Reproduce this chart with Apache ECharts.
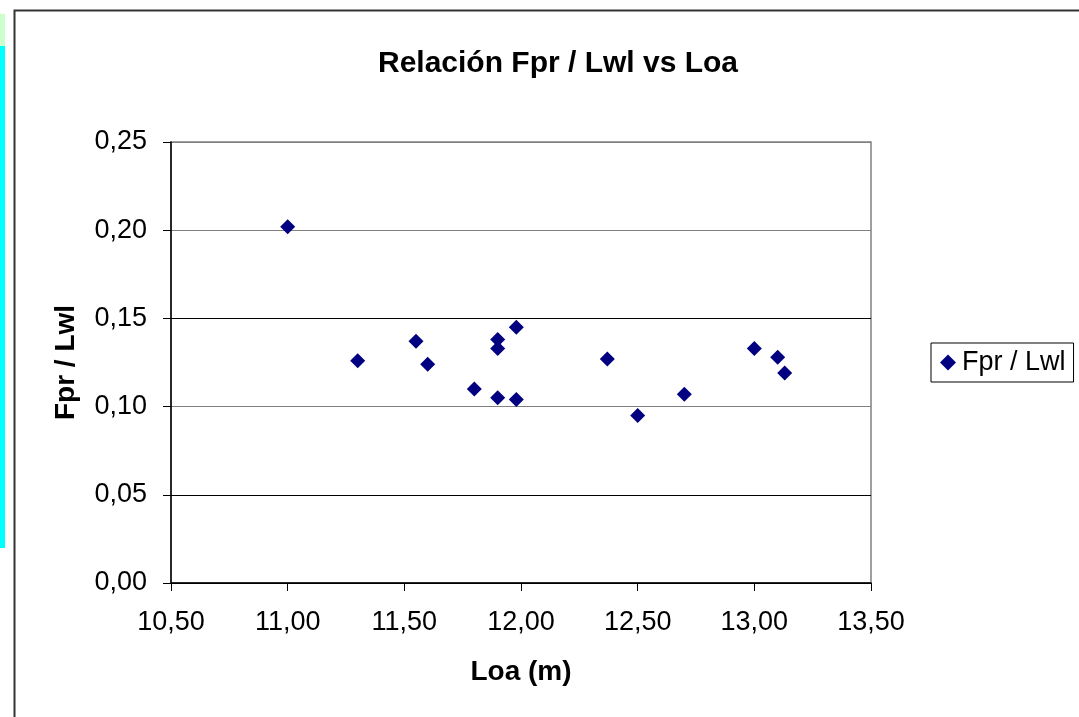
<!DOCTYPE html>
<html>
<head>
<meta charset="utf-8">
<script src="https://cdn.jsdelivr.net/npm/echarts@6/dist/echarts.min.js"></script>
<style>html,body{margin:0;padding:0;background:#fff;}#c{width:1079px;height:717px;}</style>
</head>
<body>
<div id="c"></div>
<script>
const loa = [11.00, 11.30, 11.55, 11.60, 11.80, 11.90, 11.90, 11.90, 11.98, 11.98, 12.37, 12.50, 12.70, 13.00, 13.10, 13.13];
const fprLwl = [0.202, 0.126, 0.137, 0.124, 0.110, 0.138, 0.133, 0.105, 0.145, 0.104, 0.127, 0.095, 0.107, 0.133, 0.128, 0.119];
const seriesName = 'Fpr / Lwl';
const titleText = 'Relación Fpr / Lwl vs Loa';
const xName = 'Loa (m)';
const yName = 'Fpr / Lwl';

const fmt = v => v.toFixed(2).replace('.', ',');
const points = loa.map((x, i) => [x, fprLwl[i]]);
const font = '"Liberation Sans", Arial, sans-serif';

const chart = echarts.init(document.getElementById('c'), null, {renderer: 'canvas'});
chart.setOption({
  backgroundColor: '#fff',
  animation: false,
  textStyle: {fontFamily: font, color: '#000'},
  title: {
    text: titleText, left: 553, top: 44, textAlign: 'center',
    textStyle: {fontFamily: font, fontSize: 30, fontWeight: 'bold', color: '#000'}
  },
  graphic: [
    {type: 'rect', shape: {x: 0, y: 14, width: 5, height: 32}, style: {fill: '#ccffcc'}},
    {type: 'rect', shape: {x: 0, y: 46, width: 5, height: 502}, style: {fill: '#00ffff'}},
    {type: 'rect', shape: {x: 14.5, y: 10.5, width: 1100, height: 800}, style: {fill: null, stroke: '#333', lineWidth: 2}},
    {type: 'rect', z: -1, shape: {x: 171, y: 142, width: 700, height: 441}, style: {fill: null, stroke: '#808080', lineWidth: 1.5}}
  ],
  legend: {
    data: [seriesName], left: 931, top: 343,
    orient: 'vertical',
    borderColor: '#000', borderWidth: 1, borderRadius: 0,
    padding: [6, 8, 6, 9],
    itemWidth: 16, itemHeight: 16, itemGap: 0,
    textStyle: {fontFamily: font, fontSize: 27, color: '#000', padding: [0, 0, 0, 1]}
  },
  grid: {left: 171, right: 208, top: 142, bottom: 134, containLabel: false},
  xAxis: {
    type: 'value', min: 10.5, max: 13.5, interval: 0.5,
    name: xName, nameLocation: 'middle', nameGap: 75,
    nameTextStyle: {fontFamily: font, fontSize: 28, fontWeight: 'bold', color: '#000'},
    axisLine: {show: true, onZero: false, lineStyle: {color: '#000', width: 1.5}},
    axisTick: {show: true, inside: false, length: 8, lineStyle: {color: '#000'}},
    axisLabel: {formatter: fmt, fontFamily: font, fontSize: 27, color: '#000', margin: 26},
    splitLine: {show: false}
  },
  yAxis: {
    type: 'value', min: 0, max: 0.25, interval: 0.05,
    name: yName, nameLocation: 'middle', nameGap: 91,
    nameTextStyle: {fontFamily: font, fontSize: 28, fontWeight: 'bold', color: '#000'},
    axisLine: {show: true, onZero: false, lineStyle: {color: '#000', width: 1.5}},
    axisTick: {show: true, inside: false, length: 8, lineStyle: {color: '#000'}},
    axisLabel: {formatter: fmt, fontFamily: font, fontSize: 27, color: '#000', margin: 24},
    splitLine: {show: true, lineStyle: {color: ['#000', '#000', '#808080', '#000', '#808080', '#808080'], width: 1}}
  },
  series: [{
    name: seriesName, type: 'scatter', data: points,
    symbol: 'diamond', symbolSize: 15,
    itemStyle: {color: '#000080', opacity: 1}
  }]
});
</script>
</body>
</html>
